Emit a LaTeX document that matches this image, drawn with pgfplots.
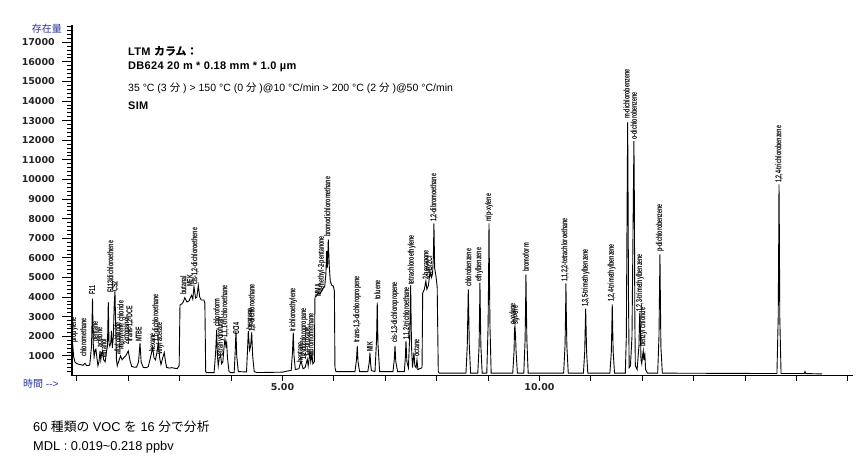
\documentclass[border=0pt]{standalone}
\usepackage{fontspec}
\setmainfont{Liberation Sans}
\newfontfamily\narrow{Liberation Sans}
\newfontfamily\narrowls[LetterSpace=3]{Liberation Sans}
\newfontfamily\cjk{Noto Sans CJK JP}
\newfontfamily\cjkw{Noto Sans CJK JP}
\newfontfamily\tickf{DejaVu Sans}
\newfontfamily\lblf[FakeStretch=0.63]{Liberation Sans}
\usepackage{pgfplots}
\pgfplotsset{compat=1.18}
\definecolor{jpblue}{RGB}{40,50,150}
\newcommand\pl[3]{\node[rotate=90,anchor=west,inner sep=0pt,font=\lblf\bfseries\fontsize{8.5}{8.5}\selectfont] at (axis cs:#1,#2) {#3};}
\begin{document}
\begin{tikzpicture}[x=1pt,y=1pt]
\useasboundingbox (0,0) rectangle (864,461);
\begin{axis}[at={(72pt,85.5pt)}, anchor=south west, scale only axis,
  width=781pt, height=350.5pt,
  xmin=0.905, xmax=16.1, ymin=0, ymax=17880,
  axis x line*=bottom, axis y line*=left, clip=false,
  scaled y ticks=false, scaled x ticks=false,
  axis line style={line width=1.4pt, black},
  tick align=outside,
  major tick length=10pt, minor tick length=5pt,
  every tick/.style={line width=1.1pt, black},
  every minor tick/.style={line width=0.9pt, black},
  xtick={1,...,16},
  xticklabels={,,,,5.00,,,,,10.00,,,,,,},
  xtick style={/pgfplots/major tick length=5pt},
  ytick={1000,2000,3000,4000,5000,6000,7000,8000,9000,10000,11000,12000,13000,14000,15000,16000,17000},
  yticklabels={1000,2000,3000,4000,5000,6000,7000,8000,9000,10000,11000,12000,13000,14000,15000,16000,17000},
  minor ytick={200,400,...,17800},
  ticklabel style={font=\tickf\bfseries\fontsize{9.5}{10}\selectfont, text=black!85},
  yticklabel style={inner sep=1pt, xshift=-6pt},
  xticklabel style={yshift=6pt},
]
\addplot[black, line width=0.9pt] coordinates {
(0.905,900) (0.918,1645) (0.935,1000) (0.96,700) (1.0,600) (1.06,560) (1.12,520) (1.158,620) (1.19,500) (1.25,530) (1.285,1500) (1.304,3920) (1.32,1500) (1.335,950) (1.355,1300) (1.37,1340) (1.39,900) (1.41,500) (1.43,700) (1.45,1250) (1.465,800) (1.48,1100) (1.50,1250) (1.52,800) (1.55,700) (1.575,1200) (1.595,1500) (1.611,3740) (1.625,1600) (1.64,1500) (1.66,1700) (1.673,2270) (1.69,1400) (1.71,2000) (1.725,3500) (1.741,4300) (1.755,2500) (1.77,800) (1.786,490) (1.81,700) (1.85,1000) (1.88,800) (1.91,900) (1.95,1000) (2.00,1250) (2.03,800) (2.066,460) (2.12,420) (2.163,430) (2.20,700) (2.228,1645) (2.25,700) (2.292,410) (2.35,400) (2.389,450) (2.43,900) (2.475,1425) (2.50,900) (2.53,800) (2.56,1200) (2.584,1680) (2.61,900) (2.636,560) (2.67,900) (2.70,1170) (2.725,700) (2.747,410) (2.80,380) (2.85,400) (2.90,370) (2.95,350) (2.99,500)
(3.006,3600) (3.04,3650) (3.07,3750) (3.10,3970) (3.14,3750) (3.18,3800) (3.23,4090) (3.255,3900) (3.278,4530) (3.31,3950) (3.335,4000) (3.362,4600) (3.39,4000) (3.42,3850) (3.47,3850) (3.49,3700) (3.506,200) (3.52,150)
(3.67,150) (3.70,1200) (3.72,2330) (3.735,1000) (3.75,500) (3.77,900) (3.798,1000) (3.815,600) (3.84,700) (3.865,1500) (3.881,1850) (3.90,1500) (3.914,1680) (3.93,900) (3.96,200) (3.99,150) (4.06,150) (4.08,1200) (4.095,2300) (4.11,1000) (4.14,200) (4.30,180) (4.32,1300) (4.335,2270) (4.36,1300) (4.38,1500) (4.401,2200) (4.42,1000) (4.45,200) (4.50,150) (5.0,170) (5.1,230) (5.17,260) (5.195,1200) (5.21,2190) (5.225,1000) (5.25,300) (5.32,350) (5.36,745) (5.40,350) (5.44,400) (5.482,830) (5.50,500) (5.535,1170) (5.55,700) (5.574,1100) (5.59,600) (5.62,700)
(5.632,4000) (5.66,4050) (5.70,4220) (5.73,4150) (5.76,4300) (5.80,4500) (5.82,4500) (5.845,5200) (5.860,6345) (5.875,5500) (5.891,6940) (5.91,5600) (5.93,4800) (5.96,4600) (5.99,4560) (6.01,4300) (6.021,400) (6.04,200)
(6.41,200) (6.44,800) (6.455,1510) (6.47,700) (6.50,200) (6.66,200) (6.69,700) (6.702,1170) (6.715,600) (6.73,250) (6.80,200) (6.83,1800) (6.844,3720) (6.858,1600) (6.89,200) (7.15,200) (7.175,800) (7.189,1510) (7.205,700) (7.24,200) (7.37,200) (7.39,900) (7.403,1760) (7.42,700) (7.45,400) (7.475,2000) (7.494,4600) (7.51,1500) (7.53,400) (7.558,1170) (7.575,500) (7.60,400) (7.617,800) (7.635,300) (7.715,400)
(7.728,4200) (7.76,4395) (7.79,4820) (7.81,4400) (7.84,4600) (7.87,5300) (7.90,5000) (7.92,5200) (7.935,6000) (7.947,7755) (7.96,5500) (7.99,5000) (8.01,4500) (8.031,200) (8.05,120)
(8.57,120) (8.595,1500) (8.605,3000) (8.615,4395) (8.625,3000) (8.635,1500) (8.66,120) (8.80,120) (8.825,1500) (8.835,3200) (8.842,4735) (8.85,3200) (8.86,1500) (8.885,120) (8.975,120) (9.0,2500) (9.01,5000) (9.018,7755) (9.027,5000) (9.037,2500) (9.06,120) (9.48,120) (9.505,1200) (9.515,2400) (9.523,2525) (9.535,2000) (9.545,1200) (9.57,120) (9.695,120) (9.72,1800) (9.73,3500) (9.737,5160) (9.745,3500) (9.755,1800) (9.78,120) (10.47,120) (10.497,1500) (10.507,3000) (10.515,4700) (10.523,3000) (10.533,1500) (10.56,120) (10.855,120) (10.88,1200) (10.89,2400) (10.899,3410) (10.907,2400) (10.917,1200) (10.94,120) (11.37,120) (11.398,1200) (11.408,2500) (11.416,3630) (11.424,2500) (11.434,1200) (11.46,120) (11.67,120) (11.69,2000) (11.70,6500) (11.708,9900) (11.716,12915) (11.724,9000) (11.732,4000) (11.745,400) (11.77,500) (11.80,2000) (11.815,6000) (11.83,10000) (11.838,11950) (11.846,9000) (11.855,3000) (11.865,500) (11.90,300) (11.935,1500) (11.948,3000) (11.955,3210) (11.962,2500) (11.975,800) (11.99,600) (12.005,1000) (12.019,1250) (12.03,800) (12.04,1000) (12.05,1100) (12.065,300) (12.10,120) (12.30,120) (12.325,2000) (12.335,4200) (12.344,6175) (12.352,4000) (12.362,1500) (12.39,120) (14.62,100) (14.645,3000) (14.655,7000) (14.66,9750) (14.668,7000) (14.675,3000) (14.70,100) (15.15,100) (15.165,200) (15.18,100) (15.5,80)
};
\pl{0.944}{1658}{propylene}
\pl{1.125}{944}{chloromethane}
\pl{1.300}{4133}{F11}
\pl{1.372}{1709}{pentane}
\pl{1.444}{1403}{acetone}
\pl{1.521}{893}{ethanol}
\pl{1.650}{4209}{F113/dichloroethene}
\pl{1.735}{4260}{CS2}
\pl{1.809}{1046}{allyl chloride}
\pl{1.868}{1301}{methylene chloride}
\pl{1.975}{1556}{2-propanol}
\pl{2.033}{1709}{trans-1,2-DCE}
\pl{2.202}{1709}{MTBE}
\pl{2.461}{1199}{hexane}
\pl{2.539}{1709}{1,1-dichloroethane}
\pl{2.617}{1046}{vinyl acetate}
\pl{3.070}{4107}{butanal}
\pl{3.200}{4515}{MEK}
\pl{3.298}{4617}{cis-1,2-dichloroethene}
\pl{3.720}{2474}{chloroform}
\pl{3.798}{944}{tetrahydrofuran}
\pl{3.881}{1913}{1,1,1-trichloroethane}
\pl{4.095}{2066}{CCl4}
\pl{4.354}{2321}{benzene}
\pl{4.412}{2219}{1,2-dichloroethane}
\pl{5.210}{2219}{trichloroethylene}
\pl{5.354}{638}{heptane}
\pl{5.418}{791}{1,2-dichloropropane}
\pl{5.482}{944}{1,4-dioxane}
\pl{5.549}{944}{dibromomethane}
\pl{5.691}{4005}{MMA}
\pl{5.763}{4260}{4-methyl-2-pentanone}
\pl{5.875}{7067}{bromodichloromethane}
\pl{6.455}{1658}{trans-1,3-dichloropropene}
\pl{6.702}{1199}{MIK}
\pl{6.844}{3852}{toluene}
\pl{7.189}{1658}{cis-1,3-dichloropropene}
\pl{7.416}{1811}{1,1,2-trichloroethane}
\pl{7.514}{4617}{tetrachloroethylene}
\pl{7.611}{944}{octane}
\pl{7.786}{4872}{2-hexanone}
\pl{7.850}{4974}{CHBr2Cl}
\pl{7.947}{7832}{1,2-dibromoethane}
\pl{8.615}{4515}{chlorobenzene}
\pl{8.829}{4770}{ethylbenzene}
\pl{9.018}{7832}{m/p-xylene}
\pl{9.490}{2576}{o-xylene}
\pl{9.545}{2576}{styrene}
\pl{9.737}{5281}{bromoform}
\pl{10.496}{4770}{1,1,2,2-tetrachloroethane}
\pl{10.899}{3495}{1,3,5-trimethylbenzene}
\pl{11.405}{3750}{1,2,4-trimethylbenzene}
\pl{11.696}{13087}{m-dichlorobenzene}
\pl{11.838}{12015}{o-dichlorobenzene}
\pl{11.955}{3240}{1,2,3-trimethylbenzene}
\pl{12.019}{1454}{benzyl chloride}
\pl{12.344}{6301}{p-dichlorobenzene}
\pl{14.660}{9822}{1,2,4-trichlorobenzene}
\end{axis}
\node[anchor=east, inner sep=0pt, text=jpblue, font=\cjkw\fontsize{10}{10}\selectfont] at (62,432) {存在量};
\node[anchor=west, inner sep=0pt, text=jpblue, font=\fontsize{10}{10}\selectfont] at (23,77) {{\cjkw 時間} -{}->};
\node[anchor=west, inner sep=0pt, font=\narrowls\bfseries\fontsize{11}{11}\selectfont] at (128,409.3) {LTM {\cjk カラム：}};
\node[anchor=west, inner sep=0pt, font=\narrowls\bfseries\fontsize{11}{11}\selectfont] at (128,394.3) {DB624 20 m * 0.18 mm * 1.0 µm};
\node[anchor=west, inner sep=0pt, font=\narrow\fontsize{10.5}{11}\selectfont] at (128,372.7) {35 °C (3 {\cjk 分} ) > 150 °C (0 {\cjk 分} )@10 °C/min > 200 °C (2 {\cjk 分} )@50 °C/min};
\node[anchor=west, inner sep=0pt, font=\narrowls\bfseries\fontsize{11}{11}\selectfont] at (128,355) {SIM};
\node[anchor=west, inner sep=0pt, font=\narrow\fontsize{12.8}{13}\selectfont] at (33,34) {60 {\cjk 種類の} VOC {\cjk を} 16 {\cjk 分で分析}};
\node[anchor=west, inner sep=0pt, font=\narrow\fontsize{12.8}{13}\selectfont] at (33,14) {MDL : 0.019\textasciitilde 0.218 ppbv};
\end{tikzpicture}
\end{document}
